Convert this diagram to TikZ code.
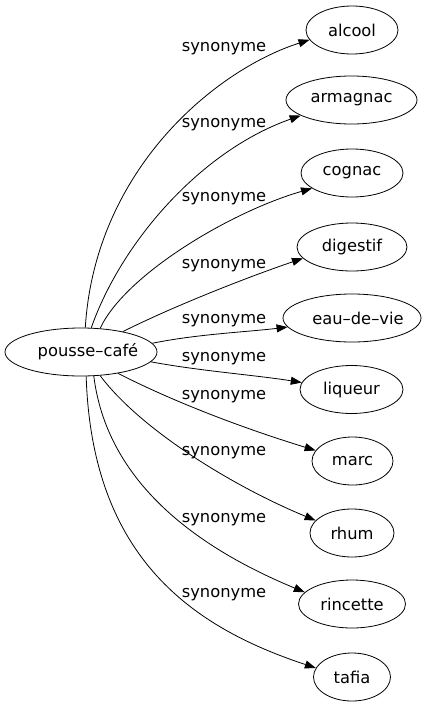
\documentclass[tikz,border=0pt]{standalone}
\usepackage{fontspec}
\setmainfont{DejaVu Sans}
\usetikzlibrary{arrows.meta,shapes.geometric}
\newcommand{\shifttext}[2]{\makebox[0pt]{\hspace*{#1}#2}}
\begin{document}
\begin{tikzpicture}[x=1pt,y=-1pt,
  every node/.style={font=\fontsize{16.3}{19}\selectfont},
  term/.style={draw, ellipse, line width=0.8pt, inner sep=0pt, minimum height=48pt},
  rel/.style={inner sep=0pt},
  synedge/.style={draw, line width=0.8pt, -{Triangle[length=11pt,width=8pt]}}]
\useasboundingbox (0,0) rectangle (426,707);
\node[term, minimum width=152pt] (pc) at (81,352) {\shifttext{14pt}{pousse–café}};
\node[term, minimum width=92pt]  (n1)  at (352,30)    {alcool};
\node[term, minimum width=131pt] (n2)  at (351.5,100) {armagnac};
\node[term, minimum width=102pt] (n3)  at (352,173)   {cognac};
\node[term, minimum width=110pt] (n4)  at (352,247)   {digestif};
\node[term, minimum width=138pt] (n5)  at (352,318)   {\shifttext{12pt}{eau–de–vie}};
\node[term, minimum width=103pt] (n6)  at (351.5,389.5) {liqueur};
\node[term, minimum width=81pt]  (n7)  at (352.5,461) {marc};
\node[term, minimum width=84pt]  (n8)  at (352,533)   {rhum};
\node[term, minimum width=107pt] (n9)  at (352,604)   {rincette};
\node[term, minimum width=77pt]  (n10) at (352,677)   {tafia};

\path[synedge] (pc.80) .. controls (95,170) and (215,70) .. (n1.193.5);
\path[synedge] (pc.67) .. controls (121,243) and (200,151) .. (n2.197);
\path[synedge] (pc.51) .. controls (125,275) and (230,212) .. (n3.201.6);
\path[synedge] (pc.26) .. controls (172,307) and (245,278) .. (n4.193);
\path[synedge] (pc.7) .. controls (198,334) and (247,332) .. (n5.188);
\path[synedge] (pc.-8) .. controls (200,371) and (255,375) .. (n6.172.8);
\path[synedge] (pc.-30) .. controls (180,405) and (252,431) .. (n7.164.4);
\path[synedge] (pc.-51) .. controls (140,429) and (232,486) .. (n8.161.6);
\path[synedge] (pc.-62) .. controls (108,490) and (210,553) .. (n9.166.5);
\path[synedge] (pc.-78) .. controls (92,560) and (195,628) .. (n10.166.3);

\node[rel] (l1)  at (224,49)    {synonyme};
\node[rel] (l2)  at (224,124.5) {synonyme};
\node[rel] (l3)  at (224,198.5) {synonyme};
\node[rel] (l4)  at (224,266)   {synonyme};
\node[rel] (l5)  at (224,320.5) {synonyme};
\node[rel] (l6)  at (224,358.5) {synonyme};
\node[rel] (l7)  at (224,396.5) {synonyme};
\node[rel] (l8)  at (224,453)   {synonyme};
\node[rel] (l9)  at (224,520)   {synonyme};
\node[rel] (l10) at (224,595)   {synonyme};
\end{tikzpicture}
\end{document}
